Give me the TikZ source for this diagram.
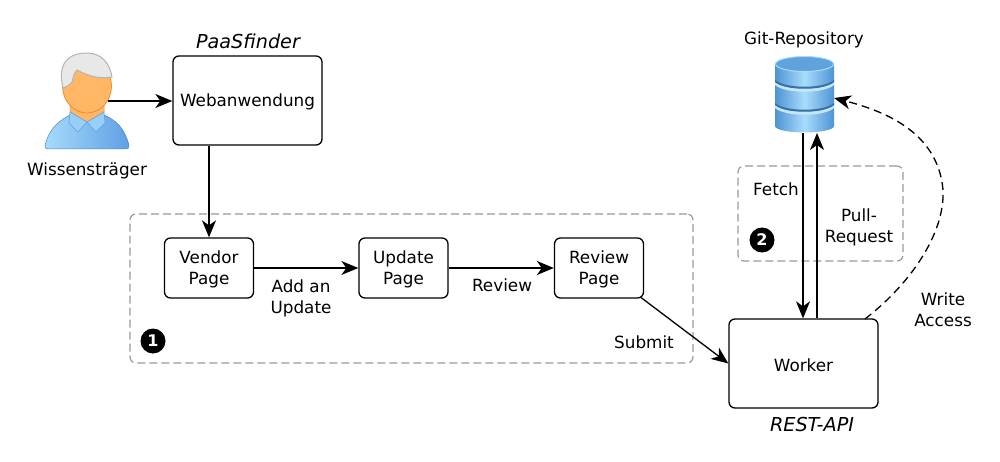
\documentclass[tikz,border=0pt]{standalone}
\usepackage{fontspec}
\setmainfont{DejaVu Sans}
\usetikzlibrary{arrows.meta,calc}
\definecolor{dashgrey}{HTML}{9A9A9A}
\definecolor{skinfill}{HTML}{FFB766}
\definecolor{skinedge}{HTML}{E8902E}
\definecolor{hairfill}{HTML}{E8E8E8}
\definecolor{hairedge}{HTML}{B4B4B4}
\definecolor{shirtlight}{HTML}{A6DBFB}
\definecolor{shirtdark}{HTML}{5F9FE4}
\definecolor{dbdark}{HTML}{4E94D4}
\definecolor{dblight}{HTML}{A9DCFC}
\newcommand\downstrut{\rule{0pt}{16pt}}
\tikzset{
  txt/.style={font=\fontsize{16.8}{21}\selectfont,align=center,inner sep=0pt,text=black,yshift=-1.5pt},
  ital/.style={txt,font=\fontsize{19.2}{22}\selectfont\itshape,yshift=0pt},
  bigbox/.style={draw=black,line width=1.3pt,rounded corners=6pt,fill=white,inner sep=0pt,minimum width=149pt,minimum height=89pt,font=\fontsize{16.8}{21}\selectfont,align=center},
  pagebox/.style={draw=black,line width=1.3pt,rounded corners=6pt,fill=white,inner sep=0pt,minimum width=89pt,minimum height=60pt,font=\fontsize{16.8}{21}\selectfont,align=center},
  group/.style={draw=dashgrey,line width=1.2pt,dash pattern=on 8pt off 4pt,rounded corners=6pt,inner sep=0pt},
  badge/.style={circle,fill=black,text=white,inner sep=0pt,minimum size=25pt,font=\fontsize{16}{16}\selectfont\bfseries},
  conn/.style={draw=black,line width=1.3pt,-{Stealth[length=17pt,width=14pt,inset=5pt]}},
  dconn/.style={conn,dash pattern=on 8pt off 5pt},
  anchorbox/.style={inner sep=0pt,outer sep=0pt}
}
\begin{document}
\begin{tikzpicture}[x=1pt,y=-1pt]
\useasboundingbox (0,0) rectangle (1000,462);
% groups
\node[group,minimum width=563pt,minimum height=149pt] (g1) at (411.5,288.5) {};
\node[group,minimum width=165pt,minimum height=95pt] (g2) at (820.5,213.5) {};
% person icon
\path[draw=shirtdark!85!black,line width=0.5pt,left color=shirtlight,right color=shirtdark]
  (45,145) .. controls (50,127) and (60,120) .. (72,114) -- (102,114)
  .. controls (116,120) and (124,127) .. (129,145) .. controls (129.5,148) and (128,149) .. (126,149)
  -- (48,149) .. controls (46,149) and (44.5,148) .. (45,145) -- cycle;
\path[fill=skinfill,draw=skinedge,line width=0.5pt] (70,100) -- (104,100) -- (104,112) -- (87,122) -- (70,112) -- cycle;
\path[fill=shirtlight!80!shirtdark,draw=shirtdark,line width=0.5pt] (70,112) -- (87,122) -- (78,132) -- (69,123) -- cycle;
\path[fill=shirtlight!80!shirtdark,draw=shirtdark,line width=0.5pt] (104,112) -- (87,122) -- (96,132) -- (105,123) -- cycle;
\path[fill=skinfill,draw=skinedge,line width=0.8pt] (87,86) ellipse [x radius=24.5,y radius=27];
\path[fill=hairfill,draw=hairedge,line width=1pt]
  (63,88) .. controls (58,68) and (64,53) .. (87,53) .. controls (102,53) and (110,64) .. (112,77)
  .. controls (101,79) and (90,77) .. (77,70) .. controls (73,74) and (73,80) .. (72,82)
  .. controls (70,85) and (66,87) .. (63,88) -- cycle;
\node[anchorbox,minimum width=42pt,minimum height=90pt] (person) at (87,101) {};
% database icon
\path[left color=dbdark,right color=dbdark,middle color=dblight]
  (775,63) -- (775,126) .. controls (775,130) and (790,132.5) .. (804.5,132.5) .. controls (819,132.5) and (834,130) .. (834,126) -- (834,63) -- cycle;
\path[fill=dblight!70!white] (775,82) .. controls (785,91) and (824,91) .. (834,82) -- (834,85) .. controls (824,94) and (785,94) .. (775,85) -- cycle;
\path[fill=dblight!70!white] (775,105) .. controls (785,114) and (824,114) .. (834,105) -- (834,108) .. controls (824,117) and (785,117) .. (775,108) -- cycle;
\path[fill=dbdark!75!black] (775,80) .. controls (785,89) and (824,89) .. (834,80) -- (834,82) .. controls (824,91) and (785,91) .. (775,82) -- cycle;
\path[fill=dbdark!75!black] (775,103) .. controls (785,112) and (824,112) .. (834,103) -- (834,105) .. controls (824,114) and (785,114) .. (775,105) -- cycle;
\path[fill=dbdark!80!dblight,draw=dblight,line width=1pt] (804.5,64) ellipse [x radius=29,y radius=7.5];
\node[anchorbox,minimum width=59pt,minimum height=77pt] (git) at (804.5,94.5) {};
% boxes
\node[bigbox] (web) at (247.5,100.5) {\downstrut Webanwendung};
\node[pagebox] (vendor) at (209,268) {\downstrut Vendor\\Page};
\node[pagebox] (update) at (403.5,268) {\downstrut Update\\Page};
\node[pagebox] (review) at (599,268) {\downstrut Review\\Page};
\node[bigbox] (worker) at (803.5,363.5) {\downstrut Worker};
% coordinates
\coordinate (fetchtop) at (803,133);
\coordinate (pulltop) at (817,133);
\coordinate (dashend) at (834,98);
\coordinate (dashstart) at (865,319);
% connectors
\draw[conn] (person.east) -- (person.east -| web.west);
\draw[conn] (web.south -| vendor.north) -- (vendor.north);
\draw[conn] (vendor.east) -- (update.west);
\draw[conn] (update.east) -- (review.west);
\draw[conn] (review.south east) ++(-3,-1) -- (worker.west);
\draw[conn] (fetchtop) -- (fetchtop |- worker.north);
\draw[conn] (pulltop |- worker.north) -- (pulltop);
\draw[dconn] (dashstart) .. controls (915,280) and (945,230) .. (943,190) .. controls (938,130) and (880,110) .. (dashend);
% labels
\node[ital] (lpaas) at (248,40) {PaaSfinder};
\node[ital] (lrest) at (812,423) {REST-API};
\node[txt] (lgit) at (804,38) {Git-Repository};
\node[txt] (lwissen) at (87,169) {Wissensträger};
\node[txt] (ladd) at (301,296.5) {Add an\\Update};
\node[txt] (lrev) at (502,284) {Review};
\node[txt] (lsub) at (644,341) {Submit};
\node[txt] (lfetch) at (776,188) {Fetch};
\node[txt] (lpull) at (859,225.5) {Pull-\\Request};
\node[txt] (lwrite) at (943,308.5) {Write\\Access};
\node[badge] (b1) at (153,341) {1};
\node[badge] (b2) at (762,240) {2};
\end{tikzpicture}
\end{document}
